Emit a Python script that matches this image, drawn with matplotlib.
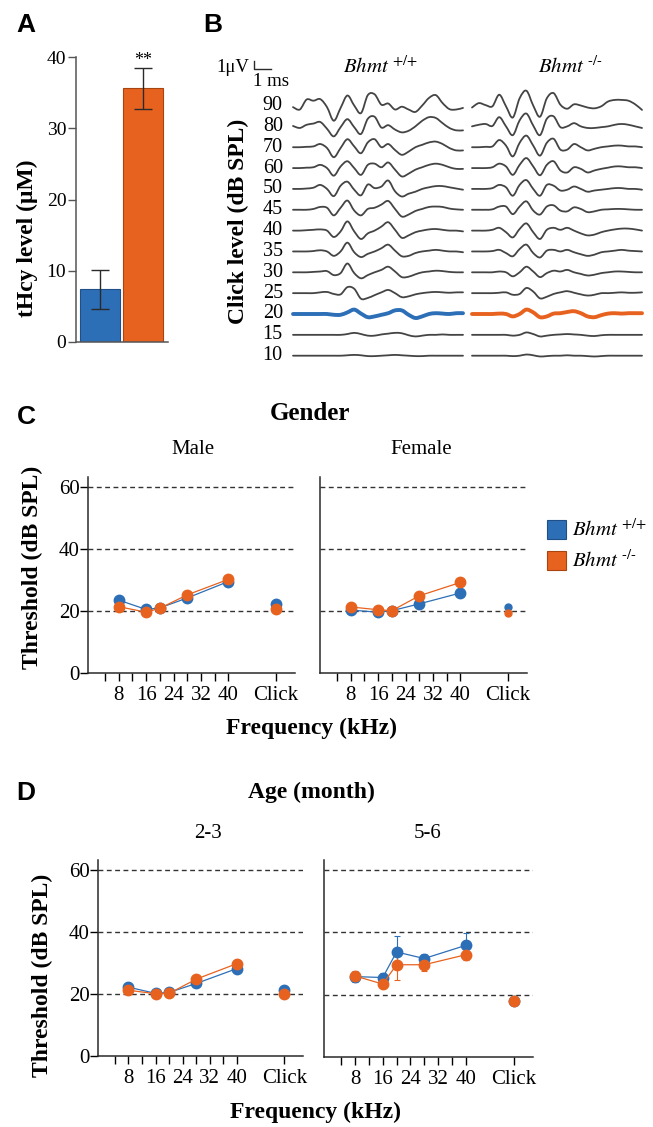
import numpy as np
import matplotlib.pyplot as plt
from matplotlib.patches import Rectangle, PathPatch
from matplotlib.path import Path

plt.rcParams['font.family'] = ['Liberation Serif', 'DejaVu Serif']
plt.rcParams['mathtext.fontset'] = 'stix'
plt.rcParams['axes.linewidth'] = 1.1

W, H = 653, 1127
blue = '#2d6fb7'
orange = '#e8621f'
ink = '#2a2a2a'

# A: plasma tHcy
bar_vals = [7.4, 35.6]
bar_errs = [2.7, 2.9]

# B: ABR waveforms (uV), one sample every 0.4 ms
levels = [90, 80, 70, 60, 50, 45, 40, 35, 30, 25, 20, 15, 10]
abr_wt = [
    [-0.2, -0.5, 0.75, 0.6, 0.8, -0.2, -1.9, -0.3, 1.25, 0.0, -0.95, 1.3, 1.4, 0.1, 0.25, -0.5, -0.15, -0.5, -0.8, 0.0, 0.95, 1.3, 0.3, -0.45, -0.5, -0.3],
    [0.05, -0.2, 0.2, 0.35, 0.55, -0.3, -1.25, -0.1, 0.9, -0.1, -0.95, 0.95, 1.2, -0.15, 0.15, -0.4, -0.75, -0.55, 0, 0.7, 1.15, 1.05, 0.4, -0.2, -0.5, -0.5],
    [0, 0, 0.05, 0.1, 0.4, -0.1, -1.25, -0.1, 1.0, 0.1, -0.75, 0.6, 1.0, 0, 0.4, -0.35, -0.95, -0.55, 0, 0.3, 0.6, 0.7, 0.4, -0.1, -0.4, -0.4],
    [0, 0, 0.05, 0.1, 0.4, 0, -0.95, 0.2, 0.85, 0, -0.85, 0.4, 0.55, 0.1, 0.7, -0.2, -1.05, -0.7, -0.2, 0.1, 0.4, 0.55, 0.4, 0.1, -0.1, -0.1],
    [0, 0, 0.05, 0.15, 0.5, 0, -0.9, 0.4, 0.9, -0.1, -0.8, 0.55, 0.1, 0.3, 1.05, -0.3, -0.95, -0.6, -0.35, 0, 0.2, 0.35, 0.35, 0.2, 0.05, -0.1],
    [0, 0, 0, 0.1, 0.35, 0.25, -0.7, 0.25, 1.15, -0.1, -0.7, 0.1, 0.25, 0.65, 1.1, 0.1, -0.85, -0.6, -0.15, 0.1, 0.35, 0.4, 0.35, 0.15, 0.05, 0],
    [0, 0, 0.05, 0.1, 0.15, 0, -0.8, -0.1, 1.15, -0.1, -1.05, -0.35, 0, 0.5, 1.05, 0.1, -0.9, -0.6, -0.2, 0, 0.15, 0.2, 0.1, 0, 0, -0.1],
    [0, 0, 0, 0.05, 0.15, 0, -0.55, 0, 1.1, -0.1, -0.7, -0.3, 0, 0.4, 0.85, 0.1, -0.6, -0.55, -0.2, 0, 0.1, 0.2, 0.1, 0, 0, -0.1],
    [0, 0, 0, 0.05, 0.1, 0.15, -0.35, -0.1, 1.1, -0.1, -0.75, -0.35, 0, 0.3, 0.7, 0.1, -0.6, -0.55, -0.25, 0, 0.1, 0.2, 0.15, 0.05, 0, 0],
    [0, 0, 0, 0, 0.1, 0.15, -0.1, -0.15, 0.75, 0.55, -0.7, -0.6, -0.25, 0.1, 0.4, 0, -0.5, -0.4, -0.15, 0, 0.1, 0.15, 0.1, 0.05, 0.1, 0.1],
    [0, 0, 0, 0, 0, 0, -0.1, -0.1, 0.2, 0.55, 0.05, -0.4, -0.3, -0.1, 0.1, 0.45, 0.45, -0.1, -0.5, -0.3, 0, 0.1, 0.05, 0, 0.1, 0.1],
    [0, 0, 0, 0, 0, 0, 0, 0, 0.1, 0.25, 0.1, -0.1, -0.1, 0.05, 0.15, 0.25, 0.2, -0.05, -0.2, -0.1, 0, 0, 0.05, 0, 0, 0],
    [0, 0, 0, 0, 0, 0, 0, 0, 0.05, 0.1, 0.05, -0.05, -0.05, 0, 0.05, 0.1, 0.05, 0, -0.05, -0.05, 0, 0, 0, 0, 0, 0],
]
abr_ko = [
    [-0.25, 0.3, 0.05, -0.1, 1.35, -0.1, -1.5, 0.9, 1.85, 0.0, -1.4, 0.9, 1.55, 0.1, -0.4, 0.15, 0, -0.25, -0.35, -0.1, 0.5, 0.7, 0.7, 0.6, 0.15, -0.55],
    [0, 0.2, 0.3, 0.05, 1.15, 0, -1.1, 0.75, 1.6, 0.1, -1.1, 0.95, 1.25, -0.1, 0, 0.4, 0, -0.2, -0.2, -0.1, 0, 0.2, 0.3, 0.2, 0, -0.2],
    [0, 0, 0.05, 0.1, 0.9, 0.2, -1.15, 0.55, 1.45, 0.2, -1.05, 0.55, 1.05, -0.3, -0.3, 0.4, 0, -0.4, -0.2, 0, 0.1, 0.2, 0.2, 0.1, 0.1, 0],
    [0, 0, 0, 0.1, 0.55, 0.2, -0.85, 0.4, 1.25, 0.2, -0.9, 0.4, 0.85, -0.3, -0.55, 0.1, -0.1, -0.55, -0.3, -0.1, 0.05, 0.2, 0.2, 0.1, 0.1, 0],
    [0, 0, 0, 0.1, 0.5, 0.2, -0.85, 0.5, 1.1, 0, -0.85, 0.5, 0.4, -0.2, -0.1, 0.3, 0, -0.35, -0.2, -0.1, 0, 0.1, 0.1, 0, 0, -0.1],
    [0, 0, 0, 0.05, 0.4, 0.4, -0.55, 0.4, 1.05, -0.1, -0.6, 0.4, 0.55, -0.1, -0.2, 0.3, 0.1, -0.3, -0.2, 0, 0.05, 0.1, 0.1, 0.05, 0, 0],
    [0, 0, 0, 0.1, 0.35, -0.2, -0.85, 0.2, 0.9, -0.2, -1.05, 0.1, 0.35, 0.1, 0.35, 0, -0.35, -0.6, -0.5, -0.2, 0, 0.15, 0.25, 0.25, 0.15, 0],
    [0, 0, 0, 0.05, 0.2, -0.2, -0.6, 0.3, 0.85, -0.2, -0.75, 0.1, 0.2, 0, 0.2, -0.1, -0.35, -0.55, -0.4, -0.1, 0, 0.1, 0.2, 0.1, 0.05, 0],
    [0, 0, 0, 0, 0.1, 0, -0.5, 0, 0.7, 0.1, -0.6, -0.1, 0.2, 0.1, 0.3, 0, -0.2, -0.4, -0.3, -0.1, 0, 0.1, 0.1, 0.05, 0, 0],
    [0, 0, 0, 0, 0.05, 0.1, -0.2, -0.1, 0.65, 0.2, -0.65, -0.45, -0.1, 0.1, 0.25, 0.05, -0.15, -0.3, -0.2, 0, 0, 0.05, 0.1, 0.05, 0.05, 0.1],
    [0, 0, 0, 0, 0.05, 0, -0.3, 0, 0.55, 0.2, -0.4, -0.3, 0.05, 0.1, 0.25, 0.35, 0.1, -0.3, -0.4, -0.15, 0.05, 0.1, 0.05, 0.1, 0.1, 0.1],
    [0, 0, 0, 0, 0, 0, -0.1, 0, 0.3, 0.1, -0.2, -0.1, 0, 0.05, 0.1, 0.05, 0, -0.1, -0.15, -0.05, 0, 0, 0, 0, 0, 0],
    [0, 0, 0, 0, 0, 0, -0.05, 0, 0.15, 0.05, -0.1, -0.05, 0, 0, 0.05, 0, 0, -0.05, -0.1, -0.05, 0, 0, 0, 0, 0, 0],
]
t_ms = np.arange(26) * 0.4

# C/D: ABR thresholds (dB SPL)
freqs = [8, 16, 20, 28, 40]
freq_ticks = [8, 16, 24, 32, 40]
click_x = 54

male_wt = [23.5, 20.5, 21.0, 24.2, 29.5]
male_wt_err = [0.8, 0.8, 0.6, 0.8, 1.5]
male_ko = [21.4, 19.6, 20.9, 25.2, 30.2]
male_ko_err = [0.5, 0.5, 0.5, 0.8, 1.2]
male_click = [22.1, 20.6]

female_wt = [20.3, 19.6, 20.1, 22.3, 25.8]
female_wt_err = [0.4, 0.4, 0.4, 0.6, 0.8]
female_ko = [21.3, 20.4, 20.1, 24.9, 29.2]
female_ko_err = [0.4, 0.4, 0.4, 0.6, 0.8]
female_click = [21.2, 19.3]

young_wt = [22.2, 20.2, 20.5, 23.4, 28.2]
young_wt_err = [0.6, 0.4, 0.4, 0.6, 1.0]
young_ko = [21.2, 20.1, 20.2, 24.8, 29.8]
young_ko_err = [0.5, 0.3, 0.3, 0.6, 0.9]
young_click = [21.4, 20.0]

old_wt = [25.8, 25.5, 33.7, 31.6, 35.8]
old_wt_err = [1.8, 1.6, 5.2, 1.6, 4.0]
old_ko = [26.0, 23.4, 29.6, 29.6, 32.8]
old_ko_err = [1.0, 1.0, 5.0, 2.0, 1.8]
old_click = [18.1, 18.1]

fig = plt.figure(figsize=(W / 100, H / 100), dpi=100)


def box(l, t, r, b):
    return fig.add_axes([l / W, 1 - b / H, (r - l) / W, (b - t) / H])


def label(x, y, s, **kw):
    kw.setdefault('ha', 'center')
    kw.setdefault('va', 'center')
    fig.text(x / W, 1 - y / H, s, **kw)


def bhmt(sup):
    return r'$\mathit{Bhmt}^{\ \text{' + sup + '}}$'


def smooth(x, y):
    # bezier curve passing through every sample (drawing only)
    p = np.column_stack([x, y])
    n = len(p)
    verts, codes = [p[0]], [Path.MOVETO]
    for i in range(n - 1):
        p0, p1, p2, p3 = p[max(i - 1, 0)], p[i], p[i + 1], p[min(i + 2, n - 1)]
        verts += [p1 + (p2 - p0) / 6, p2 - (p3 - p1) / 6, p2]
        codes += [Path.CURVE4] * 3
    return Path(verts, codes)


# ---------------- A ----------------
ax = box(76, 57, 168, 342)
ax.bar([0, 1], bar_vals, width=0.93, color=[blue, orange],
       edgecolor=['#1f4f86', '#a8440f'], linewidth=0.8)
ax.errorbar([0, 1], bar_vals, yerr=bar_errs, fmt='none', ecolor=ink,
            elinewidth=1, capsize=6.5, capthick=1)
ax.set_xlim(-0.56, 1.58)
ax.set_ylim(0, 40)
ax.set_yticks([0, 10, 20, 30, 40])
ax.set_xticks([])
for s in ('top', 'right'):
    ax.spines[s].set_visible(False)
for s in ('left', 'bottom'):
    ax.spines[s].set_color('#555555')
ax.tick_params(axis='y', length=6, width=1, color='#555555', labelsize=14, pad=1)
ax.text(1, 39.5, '**', ha='center', va='center', fontsize=13, clip_on=False)
label(27, 238, 'tHcy level (μM)', rotation=90, fontsize=17, fontweight='bold')
label(26, 25, 'A', family='Liberation Sans', fontsize=19, fontweight='bold')

# ---------------- B ----------------
axb = box(250, 50, 650, 372)
axb.set_xlim(-2.53, 21.0)
axb.set_ylim(0, 40.25)
axb.axis('off')
for k, lev in enumerate(levels):
    base = 33.31 - 2.606 * k
    for vals, x0, c in ((abr_wt[k], 0, blue), (abr_ko[k], 10.53, orange)):
        hi = lev == 20
        axb.add_patch(PathPatch(smooth(t_ms + x0, np.array(vals) + base), fill=False,
                                edgecolor=c if hi else '#444444', lw=2.8 if hi else 1.3,
                                joinstyle='round', capstyle='round'))
    axb.text(-0.6, base, str(lev), ha='right', va='center', fontsize=14.5)
axb.plot([-2.29, -2.29, -1.29], [38.9, 37.9, 37.9], color=ink, lw=1)
label(249, 68, '1μV', ha='right', fontsize=13.5)
label(271, 82, '1 ms', fontsize=13.5)
label(381, 67, bhmt('+/+'), fontsize=15)
label(570, 67, bhmt('-/-'), fontsize=15)
label(238, 221, 'Click level (dB SPL)', rotation=90, fontsize=17, fontweight='bold')
label(213, 25, 'B', family='Liberation Sans', fontsize=19, fontweight='bold')


# ---------------- C / D ----------------
def threshold_panel(l, t, r, b, wt, wt_e, ko, ko_e, clicks, click_ms=7.5, left=True):
    ax = box(l, t, r, b)
    ax.set_xlim(-1, 59.5)
    ax.set_ylim(0, 60 * (b - t) / (b - t - 10))
    for g in (20, 40, 60):
        ax.axhline(g, color='#333333', lw=1, ls=(0, (3.5, 2.5)), zorder=0)
    for vals, errs, clk, c in ((wt, wt_e, clicks[0], blue), (ko, ko_e, clicks[1], orange)):
        ax.errorbar(freqs, vals, yerr=errs, color=c, lw=0.9, marker='o', ms=7.5,
                    capsize=2, elinewidth=0.8, capthick=0.8)
        ax.plot([click_x], [clk], 'o', color=c, ms=click_ms)
    ax.set_xticks(freq_ticks + [click_x], [str(f) for f in freq_ticks] + ['Click'])
    ax.set_xticks([4, 12, 20, 28, 36], minor=True)
    ax.tick_params(axis='x', which='both', length=5.5, width=1, labelsize=15, pad=4)
    if left:
        ax.set_yticks([0, 20, 40, 60])
        ax.tick_params(axis='y', length=5.5, width=1, labelsize=15, pad=0.5)
    else:
        ax.set_yticks([])
    for s in ('top', 'right'):
        ax.spines[s].set_visible(False)
    for s in ('left', 'bottom'):
        ax.spines[s].set_color(ink)
    return ax


threshold_panel(88, 477, 295, 673, male_wt, male_wt_err, male_ko, male_ko_err, male_click)
threshold_panel(320, 477, 527, 673, female_wt, female_wt_err, female_ko, female_ko_err,
                female_click, click_ms=5, left=False)
label(26, 417, 'C', family='Liberation Sans', fontsize=19, fontweight='bold')
label(310, 414, 'Gender', fontsize=18, fontweight='bold')
label(193, 449, 'Male', fontsize=15)
label(421, 449, 'Female', fontsize=15)
label(311, 728, 'Frequency (kHz)', fontsize=17, fontweight='bold')
label(32, 567, 'Threshold (dB SPL)', rotation=90, fontsize=17, fontweight='bold')

# legend
for y0, c, ec, sup in ((520, blue, '#1f4f86', '+/+'), (551, orange, '#a8440f', '-/-')):
    fig.add_artist(Rectangle((547 / W, 1 - (y0 + 19) / H), 19 / W, 19 / H,
                             transform=fig.transFigure, facecolor=c, edgecolor=ec, lw=0.8))
    label(572, y0 + 10, bhmt(sup), ha='left', fontsize=15)

threshold_panel(98, 860, 303, 1056, young_wt, young_wt_err, young_ko, young_ko_err, young_click)
threshold_panel(324, 860, 533, 1057, old_wt, old_wt_err, old_ko, old_ko_err, old_click, left=False)
label(26, 793, 'D', family='Liberation Sans', fontsize=19, fontweight='bold')
label(311, 792, 'Age (month)', fontsize=17, fontweight='bold')
label(208, 833, '2-3', fontsize=15)
label(428, 833, '5-6', fontsize=15)
label(316, 1112, 'Frequency (kHz)', fontsize=17, fontweight='bold')
label(42, 975, 'Threshold (dB SPL)', rotation=90, fontsize=17, fontweight='bold')

fig.savefig('out.png', dpi=100)
